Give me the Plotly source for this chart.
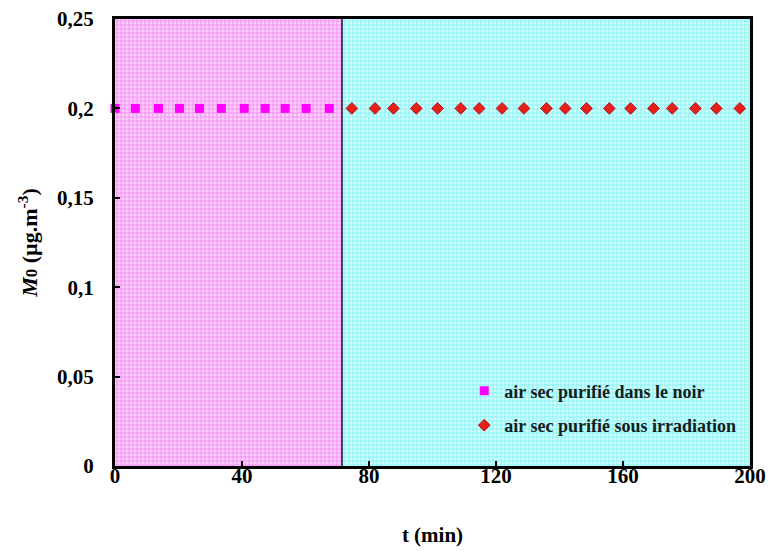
import plotly.graph_objects as go

# data
t_dark = [0, 6.4, 13.7, 20.3, 26.6, 33.5, 40.7, 47.3, 53.6, 60.2, 67.5]
m_dark = [0.2] * len(t_dark)
t_irr = [74.6, 81.9, 87.7, 94.9, 101.6, 108.9, 114.7, 121.9, 128.8, 135.9,
         141.8, 148.5, 155.7, 162.4, 169.6, 175.5, 182.8, 189.4, 196.8]
m_irr = [0.2] * len(t_irr)
boundary = 71.5
x_max = 200
y_max = 0.25
x_ticks = [0, 40, 80, 120, 160, 200]
x_ticklabels = ["0", "40", "80", "120", "160", "200"]
y_ticks = [0, 0.05, 0.1, 0.15, 0.2, 0.25]
y_ticklabels = ["0", "0,05", "0,1", "0,15", "0,2", "0,25"]

FONT = "Liberation Serif"
B = lambda s: "<b>" + s + "</b>"

fig = go.Figure()

# background regions as patterned bars
fig.add_trace(go.Bar(
    x=[boundary / 2], y=[y_max], width=[boundary],
    marker=dict(color="#f8b8f8", line=dict(width=0),
                pattern=dict(shape="+", fgcolor="#ee55ee", bgcolor="#fcd0fc", size=4, solidity=0.45)),
    showlegend=False, hoverinfo="skip"))
fig.add_trace(go.Bar(
    x=[(boundary + x_max) / 2], y=[y_max], width=[x_max - boundary],
    marker=dict(color="#b8f8f8", line=dict(width=0),
                pattern=dict(shape="+", fgcolor="#44eeee", bgcolor="#d0fcfc", size=4, solidity=0.45)),
    showlegend=False, hoverinfo="skip"))

fig.add_trace(go.Scatter(
    x=t_dark, y=m_dark, mode="markers", name=B("air sec purifié dans le noir"),
    legendgroup="a",
    marker=dict(symbol="square", size=9, color="#ff00ff", line=dict(width=0)),
    cliponaxis=False))
fig.add_trace(go.Scatter(
    x=t_irr, y=m_irr, mode="markers", name=B("air sec purifié sous irradiation"),
    legendgroup="b",
    marker=dict(symbol="diamond", size=9, color="#e8201c", line=dict(width=1, color="#b01818")),
    cliponaxis=False))

fig.add_shape(type="line", x0=boundary, x1=boundary, y0=0, y1=y_max,
              xref="x", yref="y", line=dict(color="#3c4858", width=2))

fig.update_layout(
    width=768, height=552,
    margin=dict(l=115, r=18, t=19, b=86, autoexpand=False),
    paper_bgcolor="white", plot_bgcolor="white",
    barmode="overlay", bargap=0,
    font=dict(family=FONT, size=21, color="black"),
    showlegend=True,
    legend=dict(x=0.55, y=0.209, xanchor="left", yanchor="top",
                bgcolor="rgba(0,0,0,0)", tracegroupgap=8,
                font=dict(family=FONT, size=18, color="#102020"),
                itemwidth=30),
    xaxis=dict(range=[0, x_max], tickvals=x_ticks, ticktext=[B(s) for s in x_ticklabels],
               ticks="inside", ticklen=5, tickwidth=2, tickcolor="black",
               showgrid=False, zeroline=False, automargin=False,
               showline=True, linecolor="black", linewidth=3, mirror=True,
               tickfont=dict(family=FONT, size=21),
               ticklabelstandoff=-11, ticklabeloverflow="allow",
               title=dict(text=B("t (min)"), font=dict(family=FONT, size=21), standoff=41)),
    yaxis=dict(range=[0, y_max], tickvals=y_ticks, ticktext=[B(s) for s in y_ticklabels],
               ticks="inside", ticklen=5, tickwidth=2, tickcolor="black",
               showgrid=False, zeroline=False, automargin=False,
               showline=True, linecolor="black", linewidth=3, mirror=True,
               tickfont=dict(family=FONT, size=21),
               ticklabelstandoff=14, ticklabeloverflow="allow",
               title=dict(text="<b><i>M</i><span style='font-size:17px'>0</span> (µg.m<sup>-3</sup>)</b>",
                          font=dict(family=FONT, size=22), standoff=14)),
)

fig.write_html("out.html", config={"displayModeBar": False},
               post_script="document.body.style.margin='0';document.body.style.overflow='hidden';")
